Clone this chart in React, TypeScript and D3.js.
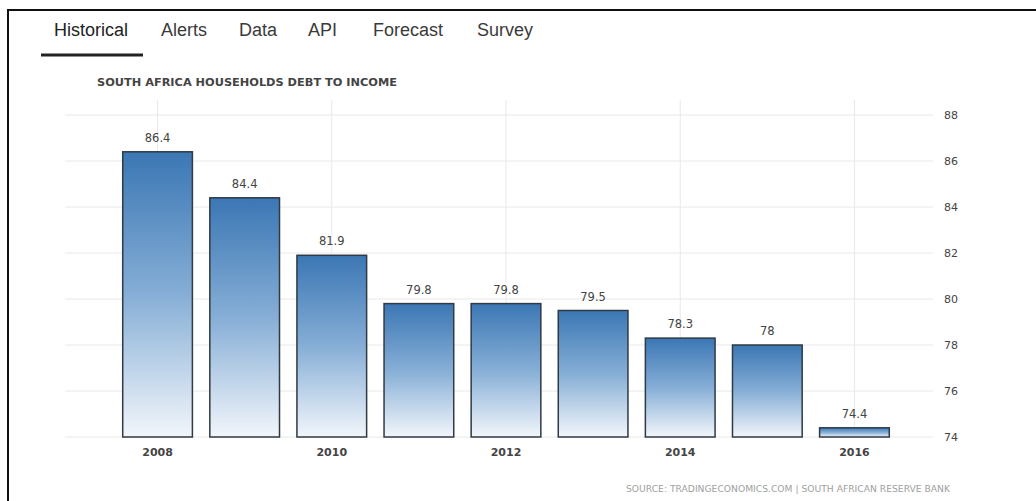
import React from "react";
import * as d3 from "d3";

const years = [2008, 2009, 2010, 2011, 2012, 2013, 2014, 2015, 2016];
const values = [86.4, 84.4, 81.9, 79.8, 79.8, 79.5, 78.3, 78, 74.4];
const yTicks = [74, 76, 78, 80, 82, 84, 86, 88];
const xTickYears = [2008, 2010, 2012, 2014, 2016];
const tabs = ["Historical", "Alerts", "Data", "API", "Forecast", "Survey"];
const tabX = [54, 161, 239, 308, 373, 477];
const title = "SOUTH AFRICA HOUSEHOLDS DEBT TO INCOME";
const source = "SOURCE: TRADINGECONOMICS.COM  |  SOUTH AFRICAN RESERVE BANK";

const W = 1036;
const H = 501;

export default function App() {
  const x = d3
    .scaleBand<number>()
    .domain(years)
    .range([114, 898])
    .paddingInner(0.2)
    .paddingOuter(0.1);
  const y = d3.scaleLinear().domain([74, 88]).range([437, 115]);
  const chartFont = "'DejaVu Sans', sans-serif";
  const fmt = (v: number) => (Number.isInteger(v) ? String(v) : v.toFixed(1));

  return (
    <svg
      width={W}
      height={H}
      style={{ position: "absolute", left: 0, top: 0, display: "block", background: "#fff" }}
    >
      <defs>
        <linearGradient id="barGrad" x1="0" y1="0" x2="0" y2="1">
          <stop offset="0%" stopColor="#3b77b4" />
          <stop offset="50%" stopColor="#86aed6" />
          <stop offset="100%" stopColor="#f2f6fb" />
        </linearGradient>
      </defs>
      {/* frame lines */}
      <line x1={8} x2={8} y1={9} y2={H} stroke="#111" strokeWidth={2} />
      <line x1={7} x2={W} y1={10} y2={10} stroke="#111" strokeWidth={2} />

      {/* tabs */}
      {tabs.map((t, i) => (
        <text
          key={t}
          x={tabX[i]}
          y={36}
          fontFamily="'Liberation Sans', Arial, sans-serif"
          fontSize={18}
          fill={i === 0 ? "#222" : "#3a3a3a"}
        >
          {t}
        </text>
      ))}
      <line x1={41} x2={143} y1={55} y2={55} stroke="#222" strokeWidth={3} />

      {/* title */}
      <text
        x={97}
        y={86}
        fontFamily={chartFont}
        fontSize={10.5}
        fontWeight="bold"
        fill="#444"
        textLength={300}
        lengthAdjust="spacingAndGlyphs"
      >
        {title}
      </text>

      {/* horizontal gridlines */}
      {yTicks.map((t) => (
        <g key={t}>
          <line x1={65} x2={933} y1={y(t)} y2={y(t)} stroke="#e8e8e8" strokeWidth={1} />
          <text
            x={944}
            y={y(t) + 4}
            fontFamily={chartFont}
            fontSize={11}
            fill="#444"
          >
            {t}
          </text>
        </g>
      ))}
      {/* vertical gridlines */}
      {xTickYears.map((yr) => {
        const cx = (x(yr) as number) + x.bandwidth() / 2;
        return (
          <line key={yr} x1={cx} x2={cx} y1={100} y2={437} stroke="#e8e8e8" strokeWidth={1} />
        );
      })}

      {/* bars */}
      {years.map((yr, i) => {
        const bx = x(yr) as number;
        const top = y(values[i]);
        return (
          <g key={yr}>
            <rect
              x={bx}
              y={top}
              width={x.bandwidth()}
              height={y(74) - top}
              fill="url(#barGrad)"
              stroke="#2f3a44"
              strokeWidth={1.5}
            />
            <text
              x={bx + x.bandwidth() / 2}
              y={top - 10}
              textAnchor="middle"
              fontFamily={chartFont}
              fontSize={11.5}
              fill="#444"
            >
              {fmt(values[i])}
            </text>
          </g>
        );
      })}

      {/* x labels */}
      {xTickYears.map((yr) => {
        const cx = (x(yr) as number) + x.bandwidth() / 2;
        return (
          <text
            key={yr}
            x={cx}
            y={456}
            textAnchor="middle"
            fontFamily={chartFont}
            fontSize={11}
            fontWeight="bold"
            fill="#444"
          >
            {yr}
          </text>
        );
      })}

      {/* source */}
      <text
        x={626}
        y={492}
        fontFamily={chartFont}
        fontSize={8}
        fill="#a0a0a0"
        textLength={324}
        lengthAdjust="spacingAndGlyphs"
      >
        {source}
      </text>
    </svg>
  );
}
